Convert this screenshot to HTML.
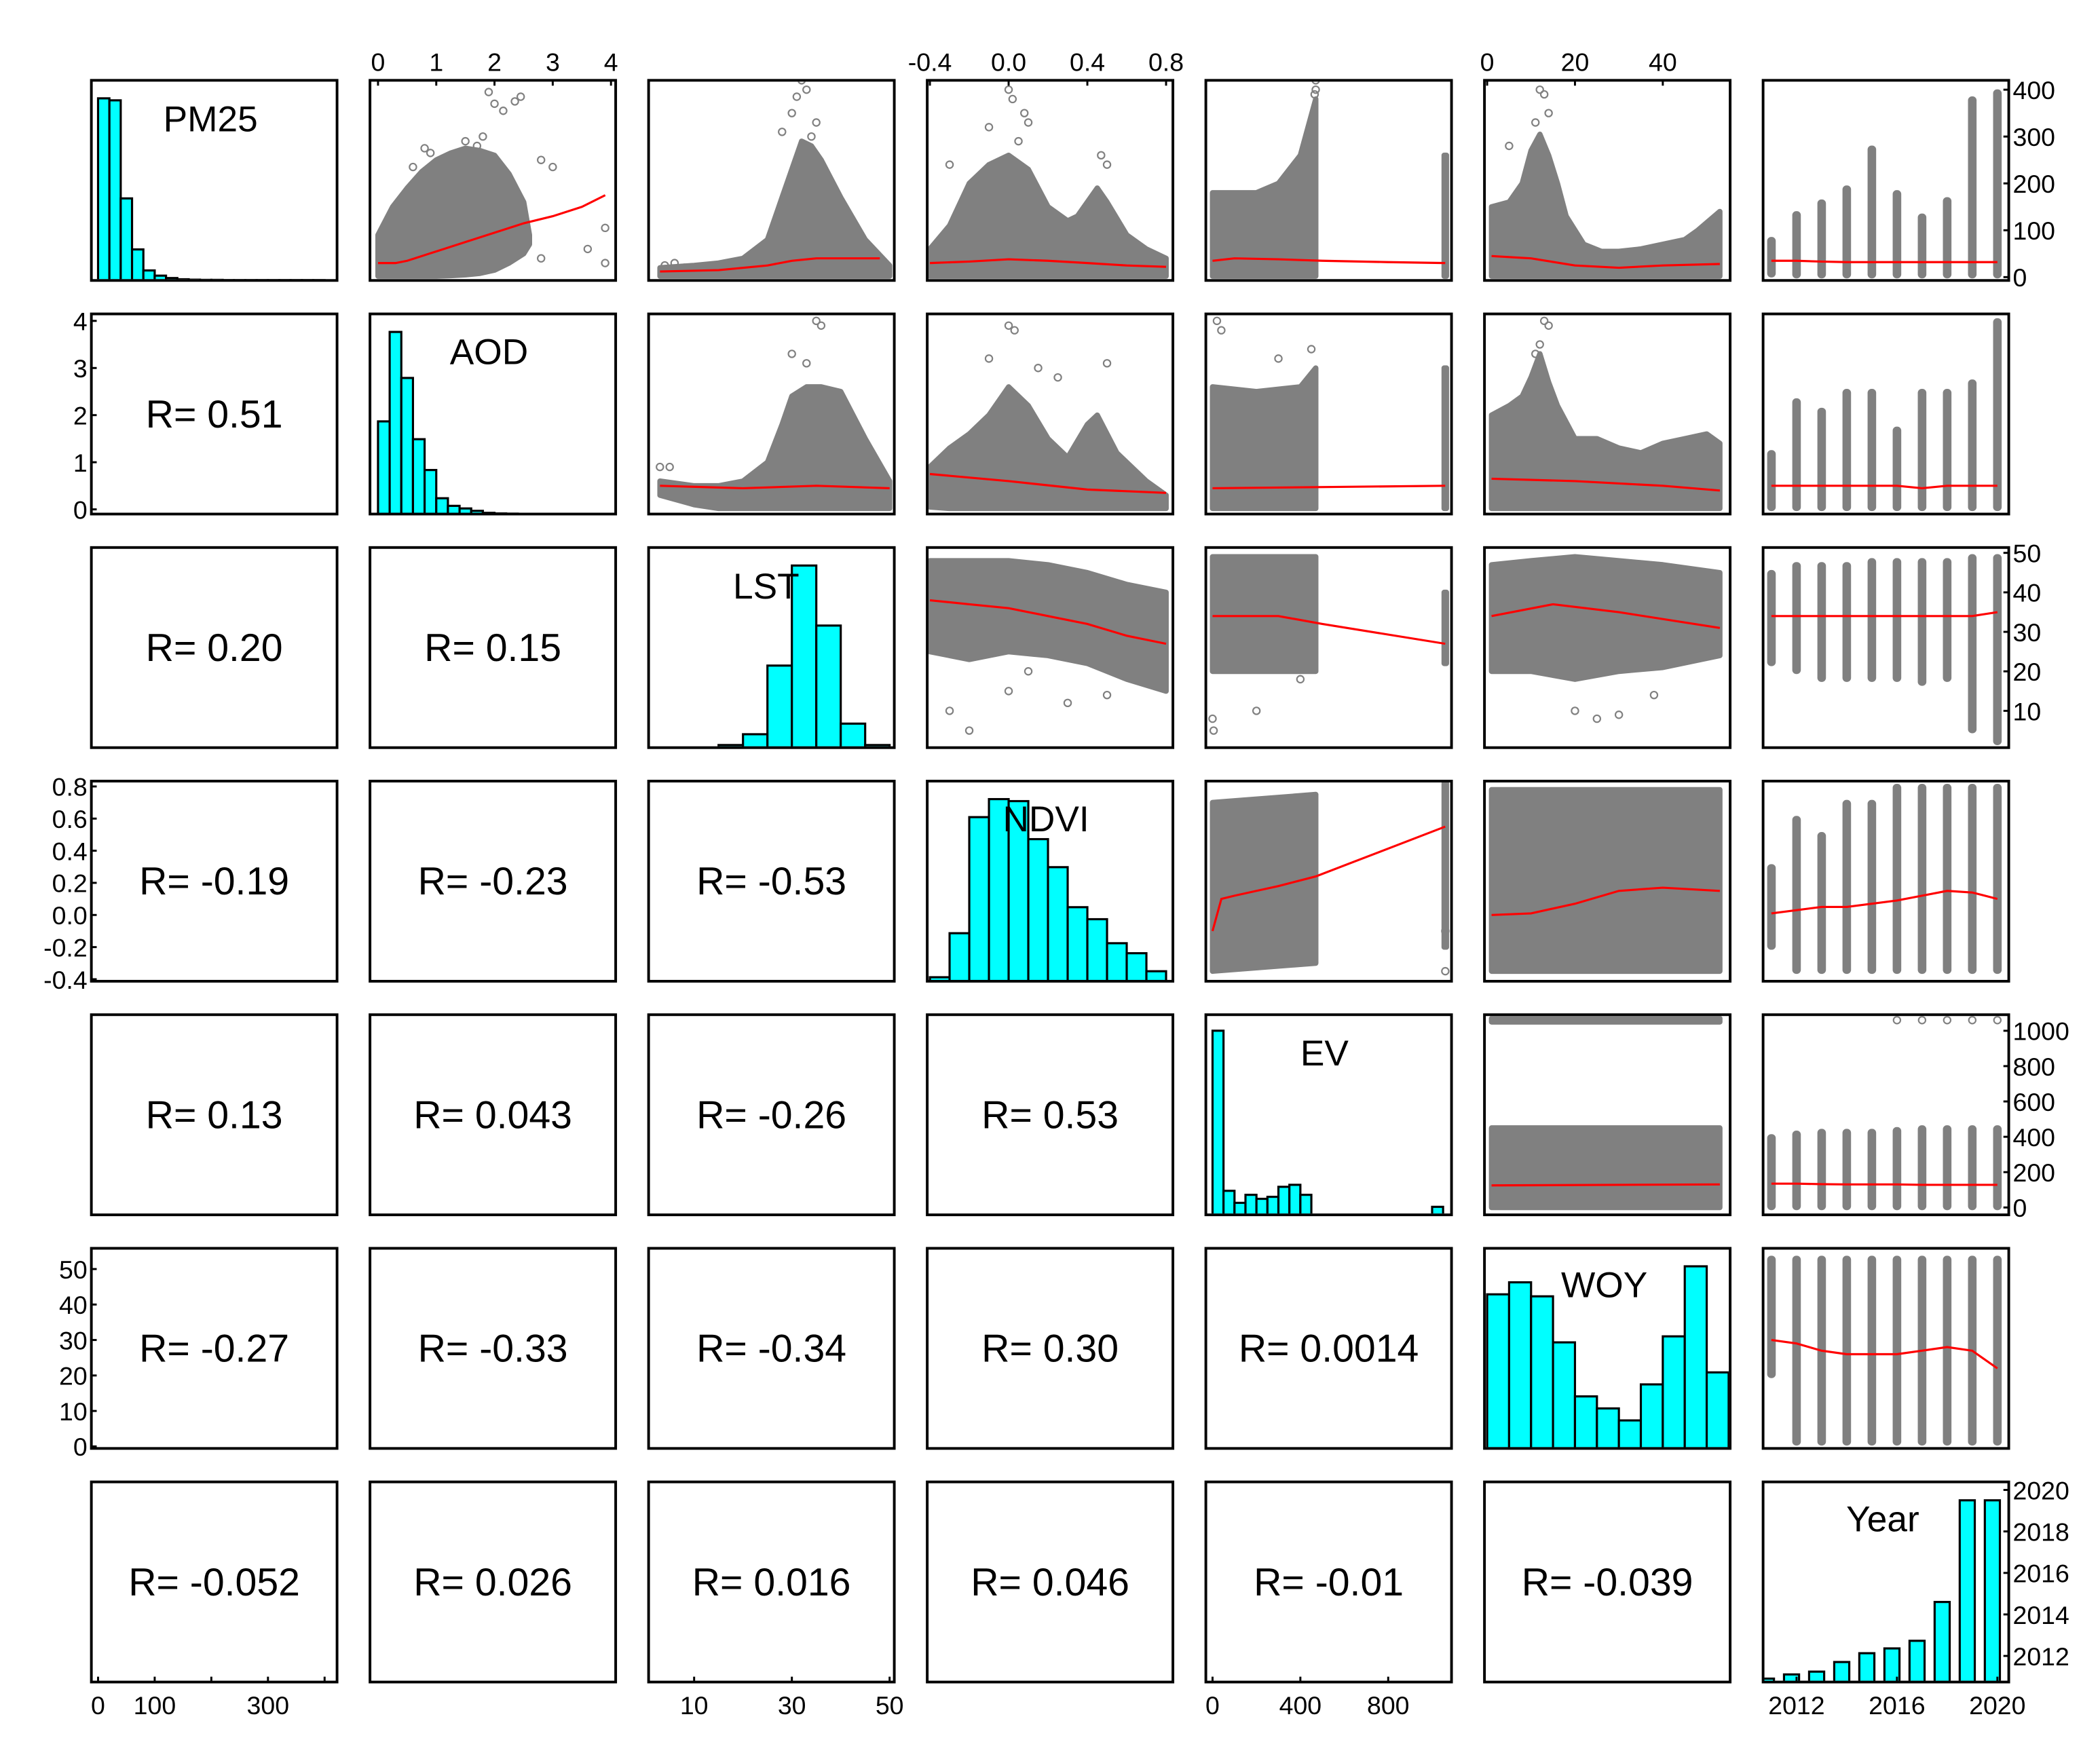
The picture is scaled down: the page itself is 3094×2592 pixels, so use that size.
<!DOCTYPE html>
<html><head><meta charset="utf-8"><title>Scatterplot matrix</title>
<style>html,body{margin:0;padding:0;background:#fff}svg{display:block}</style></head>
<body>
<svg id="chart" xmlns="http://www.w3.org/2000/svg" width="3094" height="2592" viewBox="0 0 1568 1314" font-family="Liberation Sans, Arial, sans-serif"></svg>
<script>
// ===== data =====
const varNames = ['PM25','AOD','LST','NDVI','EV','WOY','Year'];
const rValues = {'1,0':'0.51','2,0':'0.20','2,1':'0.15','3,0':'-0.19','3,1':'-0.23','3,2':'-0.53',
 '4,0':'0.13','4,1':'0.043','4,2':'-0.26','4,3':'0.53','5,0':'-0.27','5,1':'-0.33','5,2':'-0.34','5,3':'0.30','5,4':'0.0014',
 '6,0':'-0.052','6,1':'0.026','6,2':'0.016','6,3':'0.046','6,4':'-0.01','6,5':'-0.039'};
const years = [2011,2012,2013,2014,2015,2016,2017,2018,2019,2020];

const histPM25 = [0.91,0.90,0.41,0.155,0.05,0.024,0.012,0.006,0.004,0.003,0.003,0.002,0.002,0.002,0.002,0.002,0.002,0.002,0.002,0.002];
const histAOD = [0.463,0.91,0.68,0.374,0.22,0.079,0.041,0.028,0.016,0.006,0.003,0.002];
const histLST = [0.013,0.067,0.41,0.91,0.61,0.12,0.013];
const histNDVI = [0.02,0.24,0.82,0.91,0.90,0.71,0.57,0.37,0.31,0.19,0.14,0.05];
const histEV = [0.92,0.12,0.06,0.10,0.08,0.09,0.14,0.15,0.10,0,0,0,0,0,0,0,0,0,0,0,0.04];
const histWOY = [0.77,0.83,0.76,0.53,0.26,0.20,0.14,0.32,0.56,0.91,0.38];
const histYear = [0.017,0.038,0.052,0.10,0.144,0.168,0.206,0.40,0.908,0.908];
const histStart = {PM25:0,AOD:0,LST:15,NDVI:-0.4,EV:0,WOY:0};
const histWidth = {PM25:20,AOD:0.2,LST:5,NDVI:0.1,EV:50,WOY:5};

const c01x=[0,0.25,0.5,0.75,1,1.25,1.5,1.75,2,2.25,2.5,2.6], c01hi=[90,150,190,225,250,265,275,270,260,220,160,90], c01lo=[2,2,2,2,2,3,5,8,15,30,50,70];
const o01x=[1.9,2.0,2.15,2.35,2.45,1.8,0.8,0.9,0.6,2.8,3.0,3.9,3.6,2.8,3.9,1.5,1.7], o01y=[395,370,355,375,385,300,275,265,235,250,235,105,60,40,30,290,280];
const l01x=[0,0.3,0.5,1,1.5,2,2.5,3,3.5,3.9], l01y=[30,30,35,55,75,95,115,130,150,175];

const c02x=[3,10,15,20,25,28,30,32,34,36,40,45,50], c02hi=[20,25,30,40,80,170,230,290,280,250,170,80,25], c02lo=[2,2,2,2,2,2,2,2,2,2,2,2,2];
const o02x=[32,33,31,35,28,30,34,4,6,8], o02y=[420,400,385,330,310,350,300,25,30,20];
const l02x=[3,15,25,30,35,40,48], l02y=[12,15,25,35,40,40,40];

const c03x=[-0.4,-0.3,-0.2,-0.1,0,0.1,0.2,0.3,0.35,0.45,0.5,0.6,0.7,0.8], c03hi=[60,110,200,240,260,230,150,120,130,190,160,90,60,40], c03lo=[2,2,2,2,2,2,2,2,2,2,2,2,2,2];
const o03x=[0,0.02,0.1,-0.1,0.5,0.47,-0.3,0.05,0.08], o03y=[400,380,330,320,240,260,240,290,350];
const l03x=[-0.4,-0.2,0,0.2,0.4,0.6,0.8], l03y=[30,33,38,35,30,25,22];

const c04x=[0,100,200,300,400,470], c04hi=[180,180,180,200,260,380], c04lo=[2,2,2,2,2,2];
const c04bx=[1055,1065], c04bhi=[260,260], c04blo=[2,2];
const o04x=[470,470,465], o04y=[400,420,390];
const l04x=[0,100,300,500,800,1060], l04y=[35,40,38,35,32,30];

const c05x=[1,5,8,10,12,14,16,18,22,26,30,35,40,45,48,53], c05hi=[150,160,200,270,305,260,200,130,70,55,55,60,70,80,100,140], c05lo=[2,2,2,2,2,2,2,2,2,2,2,2,2,2,2,2];
const o05x=[12,13,5,11,14], o05y=[400,390,280,330,350];
const l05x=[1,10,20,30,40,53], l05y=[45,40,25,20,25,28];

const s06top=[80,135,160,190,275,180,130,165,380,395], s06bot=[5,3,3,3,3,3,3,3,3,3], l06y=[35,35,33,32,32,32,32,32,32,32];

const c12x=[3,10,15,20,25,28,30,33,36,40,45,50], c12hi=[0.6,0.5,0.5,0.6,1.0,1.8,2.4,2.6,2.6,2.5,1.5,0.6], c12lo=[0.3,0.1,0.02,0.02,0.02,0.02,0.02,0.02,0.02,0.02,0.02,0.02];
const o12x=[35,36,33,30,3,5], o12y=[4.0,3.9,3.1,3.3,0.9,0.9];
const l12x=[3,20,35,50], l12y=[0.5,0.45,0.5,0.45];

const c13x=[-0.4,-0.3,-0.2,-0.1,0,0.1,0.2,0.3,0.4,0.45,0.55,0.7,0.8], c13hi=[0.9,1.3,1.6,2.0,2.6,2.2,1.5,1.1,1.8,2.0,1.2,0.6,0.3], c13lo=[0.05,0.02,0.02,0.02,0.02,0.02,0.02,0.02,0.02,0.02,0.02,0.02,0.02];
const o13x=[0,0.03,-0.1,0.15,0.5,0.25], o13y=[3.9,3.8,3.2,3.0,3.1,2.8];
const l13x=[-0.4,0,0.4,0.8], l13y=[0.75,0.6,0.42,0.35];

const c14x=[0,200,400,470], c14hi=[2.6,2.5,2.6,3.0], c14lo=[0.02,0.02,0.02,0.02];
const c14bx=[1055,1065], c14bhi=[3,3], c14blo=[0.02,0.02];
const o14x=[20,40,300,450], o14y=[4.0,3.8,3.2,3.4];
const l14x=[0,1060], l14y=[0.45,0.5];

const c15x=[1,5,8,10,12,14,16,20,25,30,35,40,45,50,53], c15hi=[2.0,2.2,2.4,2.8,3.3,2.7,2.2,1.5,1.5,1.3,1.2,1.4,1.5,1.6,1.4], c15lo=[0.02,0.02,0.02,0.02,0.02,0.02,0.02,0.02,0.02,0.02,0.02,0.02,0.02,0.02,0.02];
const o15x=[13,14,12,11], o15y=[4.0,3.9,3.5,3.3];
const l15x=[1,20,40,53], l15y=[0.65,0.6,0.5,0.4];

const s16top=[1.2,2.3,2.1,2.5,2.5,1.7,2.5,2.5,2.7,4.0], s16bot=[0.02,0.02,0.02,0.02,0.02,0.02,0.02,0.02,0.02,0.02], l16y=[0.5,0.5,0.5,0.5,0.5,0.5,0.45,0.5,0.5,0.5];

const c23x=[-0.4,-0.2,0,0.2,0.4,0.6,0.8], c23hi=[48,48,48,47,45,42,40], c23lo=[25,23,25,24,22,18,15];
const o23x=[-0.3,-0.2,0,0.3,0.5,0.1], o23y=[10,5,15,12,14,20];
const l23x=[-0.4,-0.2,0,0.2,0.4,0.6,0.8], l23y=[38,37,36,34,32,29,27];

const c24x=[0,470], c24hi=[49,49], c24lo=[20,20];
const c24bx=[1055,1065], c24bhi=[40,40], c24blo=[22,22];
const o24x=[0,5,200,400], o24y=[8,5,10,18];
const l24x=[0,300,500,1060], l24y=[34,34,32,27];

const c25x=[1,10,20,30,40,53], c25hi=[47,48,49,48,47,45], c25lo=[20,20,18,20,21,24];
const o25x=[20,25,30,38], o25y=[10,8,9,14];
const l25x=[1,15,30,53], l25y=[34,37,35,31];

const s26top=[45,47,47,47,48,48,48,48,49,49], s26bot=[22,20,18,18,18,18,17,18,5,2], l26y=[34,34,34,34,34,34,34,34,34,35];

const c34x=[0,470], c34hi=[0.7,0.75], c34lo=[-0.35,-0.3];
const c34bx=[1055,1065], c34bhi=[0.82,0.82], c34blo=[-0.2,-0.2];
const o34x=[1060,1060], o34y=[-0.35,-0.1];
const l34x=[0,40,100,200,300,470,1060], l34y=[-0.1,0.1,0.12,0.15,0.18,0.24,0.55];

const c35x=[1,53], c35hi=[0.78,0.78], c35lo=[-0.35,-0.35];
const l35x=[1,10,20,30,40,53], l35y=[0,0.01,0.07,0.15,0.17,0.15];

const s36top=[0.3,0.6,0.5,0.7,0.7,0.8,0.8,0.8,0.8,0.8], s36bot=[-0.2,-0.35,-0.35,-0.35,-0.35,-0.35,-0.35,-0.35,-0.35,-0.35], l36y=[0.01,0.03,0.05,0.05,0.07,0.09,0.12,0.15,0.14,0.1];

const c45x=[1,53], c45hi=[450,450], c45lo=[0,0];
const c45bx=[1,53], c45bhi=[1070,1070], c45blo=[1050,1050];
const l45x=[1,53], l45y=[125,130];

const s46top=[400,420,430,430,430,440,450,450,450,450], s46bot=[0,0,0,0,0,0,0,0,0,0], l46y=[135,135,132,130,130,130,128,128,128,128];
const o46x=[2016,2017,2018,2019,2020], o46y=[1060,1060,1060,1060,1060];

const s56top=[53,53,53,53,53,53,53,53,53,53], s56bot=[20,1,1,1,1,1,1,1,1,1], l56y=[30,29,27,26,26,26,27,28,27,22];

const ticksTop = {1:[0,1,2,3,4],3:[-0.4,0,0.4,0.8],5:[0,20,40]};
const labelsTop = {1:['0','1','2','3','4'],3:['-0.4','0.0','0.4','0.8'],5:['0','20','40']};
const ticksBottom = {0:[0,100,200,300,400],2:[10,30,50],4:[0,400,800],6:[2012,2016,2020]};
const labelsBottom = {0:['0','100','','300',''],2:['10','30','50'],4:['0','400','800'],6:['2012','2016','2020']};
const ticksLeft = {1:[0,1,2,3,4],3:[-0.4,-0.2,0,0.2,0.4,0.6,0.8],5:[0,10,20,30,40,50]};
const labelsLeft = {1:['0','1','2','3','4'],3:['-0.4','-0.2','0.0','0.2','0.4','0.6','0.8'],5:['0','10','20','30','40','50']};
const ticksRight = {0:[0,100,200,300,400],2:[10,20,30,40,50],4:[0,200,400,600,800,1000],6:[2012,2014,2016,2018,2020]};
const labelsRight = {0:['0','100','200','300','400'],2:['10','20','30','40','50'],4:['0','200','400','600','800','1000'],6:['2012','2014','2016','2018','2020']};

// ===== layout / scales =====
const W=183.5, H=149.5;
function px(j){return 68+208.1*j;}
function py(i){return 60+174.5*i;}
const xsc=[{v0:0,o:5,k:0.423},{v0:0,o:6,k:43.5},{v0:10,o:34,k:3.65},{v0:-0.4,o:2,k:147},{v0:0,o:5,k:0.164},{v0:0,o:2,k:3.28},{v0:2012,o:25,k:18.75}];
const ysc=[{v0:0,o:147,k:-0.35},{v0:0,o:146,k:-35.2},{v0:10,o:122,k:-2.95},{v0:-0.4,o:148,k:-120},{v0:0,o:144,k:-0.132},{v0:0,o:148,k:-2.65},{v0:2012,o:130,k:-15.5}];
function X(j,v){const s=xsc[j];return px(j)+s.o+s.k*(v-s.v0);}
function Y(i,v){const s=ysc[i];return py(i)+s.o+s.k*(v-s.v0);}

const NS='http://www.w3.org/2000/svg';
const svg=document.getElementById('chart');
function mk(tag,attrs,parent){const e=document.createElementNS(NS,tag);for(const k in attrs)e.setAttribute(k,attrs[k]);(parent||svg).appendChild(e);return e;}
const defs=mk('defs',{});
const GRAY='#808080';

function panelGroup(i,j){
  const cp=mk('clipPath',{id:'cp'+i+j},defs);
  mk('rect',{x:px(j)+1,y:py(i)+1,width:W-2,height:H-2},cp);
  return mk('g',{'clip-path':'url(#cp'+i+j+')'});
}
function cloud(g,i,j,xs,hi,lo){
  let pts=[];
  for(let k=0;k<xs.length;k++)pts.push(X(j,xs[k]).toFixed(1)+','+Y(i,hi[k]).toFixed(1));
  for(let k=xs.length-1;k>=0;k--)pts.push(X(j,xs[k]).toFixed(1)+','+Y(i,lo[k]).toFixed(1));
  const p=mk('polygon',{points:pts.join(' '),fill:GRAY,stroke:GRAY,'stroke-width':4,'stroke-linejoin':'round'},g);
  
  
}
function outliers(g,i,j,xs,ys){
  for(let k=0;k<xs.length;k++){
    const c=mk('circle',{cx:X(j,xs[k]),cy:Y(i,ys[k]),r:2.6,fill:'none',stroke:GRAY,'stroke-width':1.1},g);
    
    
  }
}
function loess(g,i,j,xs,ys){
  const d=xs.map((x,k)=>(k?'L':'M')+X(j,x).toFixed(1)+','+Y(i,ys[k]).toFixed(1)).join(' ');
  const p=mk('path',{d:d,fill:'none',stroke:'#ff0000','stroke-width':1.6},g);
  
  
}
function strips(g,i,top,bot,ly){
  for(let k=0;k<years.length;k++){
    const x=X(6,years[k]);
    const r=mk('rect',{x:x-3.2,y:Y(i,top[k])-2,width:6.4,height:Y(i,bot[k])-Y(i,top[k])+4,rx:3,fill:GRAY},g);
    
    
  }
  loess(g,i,6,years,ly);
}

const scatterSpecs=[
 [0,1,[[c01x,c01hi,c01lo]],[o01x,o01y],[l01x,l01y]],
 [0,2,[[c02x,c02hi,c02lo]],[o02x,o02y],[l02x,l02y]],
 [0,3,[[c03x,c03hi,c03lo]],[o03x,o03y],[l03x,l03y]],
 [0,4,[[c04x,c04hi,c04lo],[c04bx,c04bhi,c04blo]],[o04x,o04y],[l04x,l04y]],
 [0,5,[[c05x,c05hi,c05lo]],[o05x,o05y],[l05x,l05y]],
 [1,2,[[c12x,c12hi,c12lo]],[o12x,o12y],[l12x,l12y]],
 [1,3,[[c13x,c13hi,c13lo]],[o13x,o13y],[l13x,l13y]],
 [1,4,[[c14x,c14hi,c14lo],[c14bx,c14bhi,c14blo]],[o14x,o14y],[l14x,l14y]],
 [1,5,[[c15x,c15hi,c15lo]],[o15x,o15y],[l15x,l15y]],
 [2,3,[[c23x,c23hi,c23lo]],[o23x,o23y],[l23x,l23y]],
 [2,4,[[c24x,c24hi,c24lo],[c24bx,c24bhi,c24blo]],[o24x,o24y],[l24x,l24y]],
 [2,5,[[c25x,c25hi,c25lo]],[o25x,o25y],[l25x,l25y]],
 [3,4,[[c34x,c34hi,c34lo],[c34bx,c34bhi,c34blo]],[o34x,o34y],[l34x,l34y]],
 [3,5,[[c35x,c35hi,c35lo]],[[],[]],[l35x,l35y]],
 [4,5,[[c45x,c45hi,c45lo],[c45bx,c45bhi,c45blo]],[[],[]],[l45x,l45y]]
];
scatterSpecs.forEach(s=>{
  const [i,j,clouds,out,lo]=s;
  const g=panelGroup(i,j);
  
  
  clouds.forEach(c=>cloud(g,i,j,c[0],c[1],c[2]));
  outliers(g,i,j,out[0],out[1]);
  loess(g,i,j,lo[0],lo[1]);
});
const stripSpecs=[[0,s06top,s06bot,l06y],[1,s16top,s16bot,l16y],[2,s26top,s26bot,l26y],[3,s36top,s36bot,l36y],[4,s46top,s46bot,l46y],[5,s56top,s56bot,l56y]];
stripSpecs.forEach(s=>{
  const g=panelGroup(s[0],6);
  
  
  strips(g,s[0],s[1],s[2],s[3]);
  if(s[0]===4) outliers(g,4,6,o46x,o46y);
});

// ===== diagonal histograms =====
const hists={PM25:histPM25,AOD:histAOD,LST:histLST,NDVI:histNDVI,EV:histEV,WOY:histWOY};
const labelPos=[[157,98],[365,272],[572,447],[781,621],[989,796],[1198,969],[1406,1144]];
for(let d=0;d<7;d++){
  const name=varNames[d];
  const g=panelGroup(d,d);
  
  
  const base=py(d)+H;
  if(name!=='Year'){
    const arr=hists[name];
    for(let k=0;k<arr.length;k++){
      const x0=X(d,histStart[name]+k*histWidth[name]), x1=X(d,histStart[name]+(k+1)*histWidth[name]);
      const h=arr[k]*H; if(h<=0)continue;
      const r=mk('rect',{x:x0,y:base-h,width:x1-x0,height:h+2,fill:'#00ffff',stroke:'#000','stroke-width':1.6},g);
      
      
    }
  } else {
    for(let k=0;k<years.length;k++){
      const c=X(6,years[k]-0.2), w=0.6*18.75, h=histYear[k]*H;
      const r=mk('rect',{x:c-w/2,y:base-h,width:w,height:h+2,fill:'#00ffff',stroke:'#000','stroke-width':1.6},g);
      
      
    }
  }
  const t=mk('text',{x:labelPos[d][0],y:labelPos[d][1],'font-size':27,'text-anchor':'middle',fill:'#000'},g);
  t.textContent=name;
  
  
}

// ===== correlation text =====
for(const key in rValues){
  const [i,j]=key.split(',').map(Number);
  const t=mk('text',{x:px(j)+W/2,y:py(i)+H/2+10,'font-size':29,'text-anchor':'middle',fill:'#000'});
  t.textContent='R= '+rValues[key];
  
  
}

// ===== frames =====
for(let i=0;i<7;i++)for(let j=0;j<7;j++){
  const r=mk('rect',{x:px(j),y:py(i),width:W,height:H,fill:'none',stroke:'#000','stroke-width':2});
  
  
}

// ===== axes =====
const FS=19;
for(const j in ticksTop){ticksTop[j].forEach((v,k)=>{const x=X(+j,v),y=py(0);
  mk('line',{x1:x,y1:y,x2:x,y2:y+4,stroke:'#000','stroke-width':1.5});
  const t=mk('text',{x:x,y:y-7,'font-size':FS,'text-anchor':'middle'});t.textContent=labelsTop[j][k];
  
  });}
for(const j in ticksBottom){ticksBottom[j].forEach((v,k)=>{const x=X(+j,v),y=py(6)+H;
  mk('line',{x1:x,y1:y,x2:x,y2:y-4,stroke:'#000','stroke-width':1.5});
  const t=mk('text',{x:x,y:y+24,'font-size':FS,'text-anchor':'middle'});t.textContent=labelsBottom[j][k];
  
  });}
for(const i in ticksLeft){ticksLeft[i].forEach((v,k)=>{const y=Y(+i,v),x=px(0);
  mk('line',{x1:x,y1:y,x2:x+4,y2:y,stroke:'#000','stroke-width':1.5});
  const t=mk('text',{x:x-3,y:y+7,'font-size':FS,'text-anchor':'end'});t.textContent=labelsLeft[i][k];
  
  });}
for(const i in ticksRight){ticksRight[i].forEach((v,k)=>{const y=Y(+i,v),x=px(6)+W;
  mk('line',{x1:x,y1:y,x2:x-4,y2:y,stroke:'#000','stroke-width':1.5});
  const t=mk('text',{x:x+3,y:y+7,'font-size':FS,'text-anchor':'start'});t.textContent=labelsRight[i][k];
  
  });}
</script>
</body></html>
